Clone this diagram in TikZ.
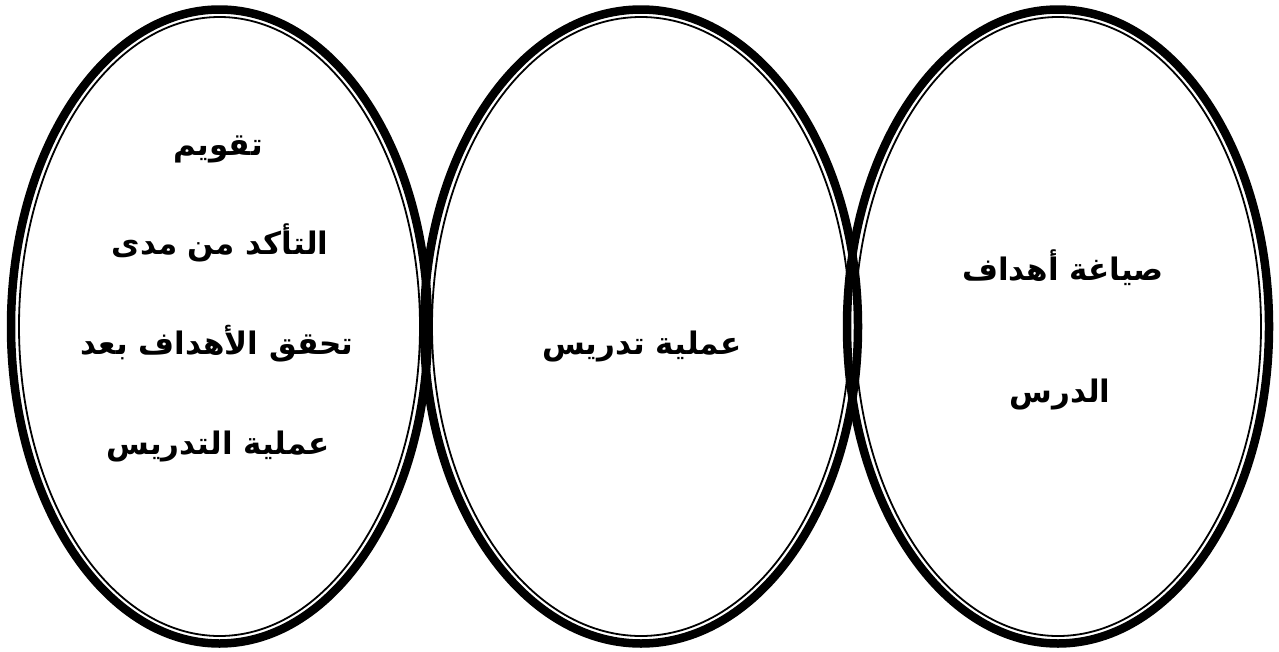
\documentclass[tikz,border=0pt]{standalone}
\usepackage{fontspec}
\newfontfamily\arabicfont[Script=Arabic]{DejaVu Sans}
\TeXXeTstate=1
\begin{document}
\begin{tikzpicture}[x=1pt, y=-1pt,
    outerline/.style={line width=8.5pt},
    innerline/.style={line width=1.8pt},
    label/.style={font=\arabicfont\bfseries\fontsize{31}{36}\selectfont, inner sep=0pt, anchor=base}]
  \useasboundingbox (0,0) rectangle (1279,651);
  % ellipse centres
  \coordinate (cleft) at (219.5,326.5);
  \coordinate (cmid) at (641,326.5);
  \coordinate (cright) at (1058,326.5);
  % thick outer rims
  \draw[outerline] (cleft) ellipse [x radius=208.5, y radius=317];
  \draw[outerline] (cmid) ellipse [x radius=217, y radius=317];
  \draw[outerline] (cright) ellipse [x radius=211, y radius=317];
  % thin inner rims
  \draw[innerline] (cleft) ellipse [x radius=200.5, y radius=309.5];
  \draw[innerline] (cmid) ellipse [x radius=209, y radius=309.5];
  \draw[innerline] (cright) ellipse [x radius=203, y radius=309.5];
  % left ellipse text
  \node[label] (eval) at (218,155) {\beginR تقويم\endR};
  \node[label] (check) at (220,254) {\beginR التأكد من مدى\endR};
  \node[label] (reach) at (217,354) {\beginR تحقق الأهداف بعد\endR};
  \node[label] (after) at (218,454) {\beginR عملية التدريس\endR};
  % middle ellipse text
  \node[label] (teach) at (642,354) {\beginR عملية تدريس\endR};
  % right ellipse text
  \node[label] (goals) at (1063,280) {\beginR صياغة أهداف\endR};
  \node[label] (lesson) at (1060,402) {\beginR الدرس\endR};
\end{tikzpicture}
\end{document}
